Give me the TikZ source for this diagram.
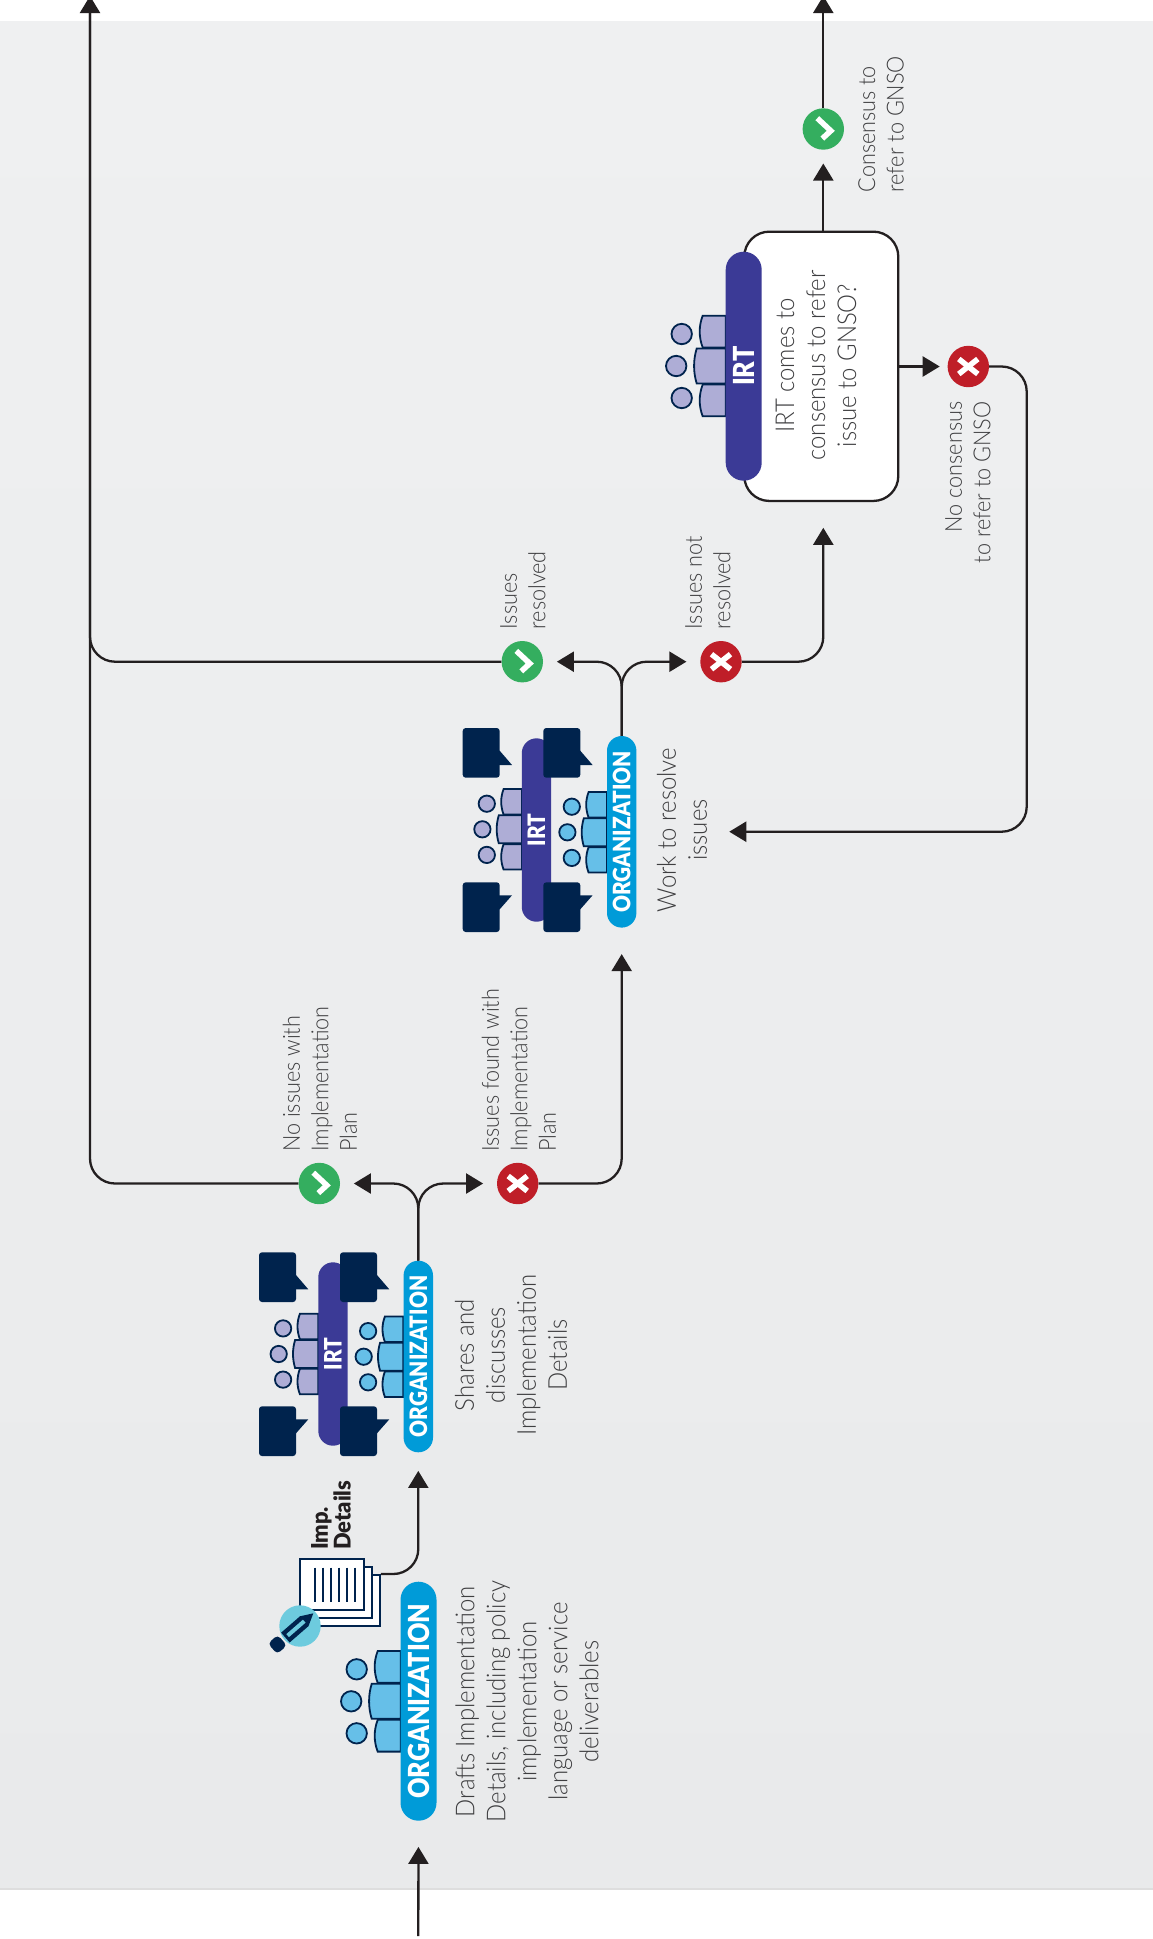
\documentclass[tikz,border=0pt]{standalone}
\usepackage{fontspec}
\setmainfont{Lato Light}[FakeStretch=0.92]
\newfontfamily\boldf{Lato Black}[FakeStretch=0.95]
\newfontfamily\semif{Lato Black}[FakeStretch=0.87]
\usetikzlibrary{arrows.meta,calc}
\definecolor{linec}{HTML}{231F20}
\definecolor{txtc}{HTML}{3E3E40}
\definecolor{navy}{HTML}{00234D}
\definecolor{orgc}{HTML}{009BD8}
\definecolor{irtc}{HTML}{3B3A96}
\definecolor{orgp}{HTML}{66BFE8}
\definecolor{irtp}{HTML}{AEADD6}
\definecolor{okc}{HTML}{34AE5F}
\definecolor{noc}{HTML}{BF1E28}
\definecolor{tealc}{HTML}{6DCBDE}
\definecolor{bgtop}{HTML}{EFF0F1}
\definecolor{bgbot}{HTML}{E9EAEB}
\tikzset{
  x=1pt,y=-1pt,
  conn/.style={draw=linec,line width=2.3pt,rounded corners=25pt},
  arr/.style={conn,-{Triangle[length=17pt,width=20pt]}},
  okdot/.style={circle,fill=okc,minimum size=41.4pt,inner sep=0pt},
  nodot/.style={circle,fill=noc,minimum size=41.4pt,inner sep=0pt},
  bigpill/.style={fill=#1,minimum width=36pt,rounded corners=18pt,inner sep=0pt,text=white},
  smallpill/.style={fill=#1,minimum width=29.4pt,rounded corners=14.7pt,inner sep=0pt,text=white},
  bodytxt/.style={rotate=90,align=center,inner sep=0pt,text=txtc,font=\fontsize{26}{31}\selectfont},
  lbl/.style={rotate=90,align=left,anchor=west,inner sep=0pt,text=txtc,font=\fontsize{23.5}{28.5}\selectfont},
  page/.style={draw=navy,line width=2pt,fill=white,minimum width=64.3pt,minimum height=51pt,inner sep=0pt},
  glyph/.style={draw=white,line width=5.5pt},
}
\newcommand{\chev}[1]{\draw[glyph] ([shift={(-6,-10.8)}]#1.center) -- ([shift={(7.5,1.8)}]#1.center) -- ([shift={(-1,9.6)}]#1.center);}
\newcommand{\crs}[1]{\draw[glyph] ([shift={(-9.5,-7.5)}]#1.center) -- ([shift={(9.5,7.5)}]#1.center); \draw[glyph] ([shift={(9.5,-7.5)}]#1.center) -- ([shift={(-9.5,7.5)}]#1.center);}
% people: #1,#2 middle of the bar's edge, #3 scale, #4 colour
\newcommand{\folks}[4]{%
\begin{scope}[shift={(#1,#2)},scale=#3,every path/.append style={draw=navy,line width=1.8pt,fill=#4}]
\path (0,-50.3) -- (-23,-50.3) .. controls (-27,-40) and (-27,-29) .. (-23,-18.5) -- (0,-18.5) -- cycle;
\path (0,18.5) -- (-23,18.5) .. controls (-27,29) and (-27,40) .. (-23,50.3) -- (0,50.3) -- cycle;
\path (0,-17.5) -- (-29,-17.5) .. controls (-32.5,-6) and (-32.5,6) .. (-29,17.5) -- (0,17.5) -- cycle;
\path (-44,-32) circle[radius=10.2];
\path (-49.5,0) circle[radius=10.2];
\path (-44,32) circle[radius=10.2];
\end{scope}}
\newcommand{\bubtop}[2]{\begin{scope}[shift={(#1,#2)}]
\fill[navy,rounded corners=3pt] (0,0) rectangle (37,49.7);
\fill[navy] (36,22.7) -- (37,22.7) -- (49.3,37) -- (36,37) -- cycle;
\end{scope}}
\newcommand{\bubbot}[2]{\begin{scope}[shift={(#1,#2)}]
\fill[navy,rounded corners=3pt] (0,0) rectangle (37,49.7);
\fill[navy] (36,13) -- (49.3,13) -- (37,27) -- (36,27) -- cycle;
\end{scope}}
\begin{document}
\begin{tikzpicture}
\clip (0,0) rectangle (1153,1939);
\fill[white] (0,0) rectangle (1153,1939);
\fill[top color=bgtop,bottom color=bgbot] (0,21) rectangle (1153,1889);
\draw[color=black!13,line width=1.2pt] (0,1889) -- (1153,1889);

% ---- nodes: status dots
\node[okdot] (yes1) at (319.3,1183.5) {};
\node[nodot] (no1) at (517.7,1183.5) {};
\node[okdot] (yes2) at (522.3,661.7) {};
\node[nodot] (no2) at (721,661.7) {};
\node[okdot] (yes3) at (823.3,129) {};
\node[nodot] (no3) at (968.3,366.5) {};

% ---- free ends and the decision box
\coordinate (start) at (418.3,1936);
\coordinate (topL) at (90,-4);
\coordinate (topR) at (823.3,-4);
\coordinate (bendR) at (1026.7,831.7);
\node[draw=linec,line width=2.3pt,fill=white,rounded corners=25pt,minimum width=154pt,minimum height=269.3pt,inner sep=0pt] (box) at (821.3,366.3) {};

% ---- group 1
\folks{400.7}{1701.3}{1}{orgp}
\node[bigpill=orgc,minimum height=239pt] (org1) at (418.5,1701.2) {\rotatebox{90}{\semif\fontsize{29}{29}\selectfont ORGANIZATION}};
\bubtop{259}{1252.3}\bubbot{259}{1406.3}
\folks{318.3}{1354}{0.8}{irtp}
\node[smallpill=irtc,minimum height=183.4pt] (irt1) at (333,1354) {\rotatebox{90}{\semif\fontsize{24}{24}\selectfont IRT}};
\bubtop{340}{1252.3}\bubbot{340}{1406.3}
\folks{403.3}{1356.7}{0.8}{orgp}
\node[smallpill=orgc,minimum height=191.6pt] (org2) at (418.3,1356.5) {\rotatebox{90}{\semif\fontsize{24}{24}\selectfont ORGANIZATION}};

% ---- group 2
\bubtop{462.7}{728}\bubbot{462.7}{882.3}
\folks{522}{829.3}{0.8}{irtp}
\node[smallpill=irtc,minimum height=183.4pt] (irt2) at (536.5,830) {\rotatebox{90}{\semif\fontsize{24}{24}\selectfont IRT}};
\bubtop{543.3}{728}\bubbot{543.3}{882.3}
\folks{607}{832.3}{0.8}{orgp}
\node[smallpill=orgc,minimum height=191.6pt] (org3) at (621.7,831.8) {\rotatebox{90}{\semif\fontsize{24}{24}\selectfont ORGANIZATION}};

% ---- group 3
\folks{725.7}{366}{1}{irtp}
\node[bigpill=irtc,minimum height=229pt] (irt3) at (743.7,366.2) {\rotatebox{90}{\semif\fontsize{29}{29}\selectfont IRT}};

% ---- document stack
\node[page] (p3) at (347.6,1600.5) {};
\node[page] (p2) at (339.6,1592.5) {};
\node[page] (p1) at (332.2,1584.5) {};
\foreach \lx in {315,323,331,339,347,355}
  \draw[navy,line width=2.5pt] (\lx,1567.5) -- (\lx,1602);
\fill[tealc] (300,1626) circle[radius=20.7];
\begin{scope}[shift={(313.3,1613.3)},rotate=221]
\fill[navy] (0,0) -- (12,-6.5) -- (37,-6.5) -- (37,6.5) -- (12,6.5) -- cycle;
\fill[tealc] (12,-2) rectangle (34,2);
\fill[navy,rounded corners=4pt] (41,-7) -- (54,-7) -- (54,7) -- (41,7) -- cycle;
\end{scope}

% ---- connectors
\draw[arr,shorten >=26pt] (start) -- (org1.south);
\draw[arr,shorten >=18.4pt] (p3.north east) -| (org2.south);
\draw[arr,shorten >=13.7pt] (org2.north) |- (yes1.east);
\draw[arr,shorten >=13.7pt] (org2.north) |- (no1.west);
\draw[arr] (yes1.west) -| (topL);
\draw[arr,shorten >=26.3pt] (no1.east) -| (org3.south);
\draw[arr,shorten >=13.7pt] (org3.north) |- (yes2.east);
\draw[arr,shorten >=13.7pt] (org3.north) |- (no2.west);
\draw[conn] (yes2.west) -| (topL);
\draw[arr,shorten >=25.7pt] (no2.east) -| (yes3 |- box.south);
\draw[arr,shorten >=13.6pt] (yes3 |- box.north) -- (yes3.south);
\draw[arr] (yes3.north) -- (topR);
\draw[arr,shorten >=7.7pt] (box.east |- no3) -- (no3.west);
\chev{yes1}\chev{yes2}\chev{yes3}
\crs{no1}\crs{no2}\crs{no3}

% ---- texts
\node[bodytxt] (t1) at (527,1701.5) {Drafts Implementation\\Details, including policy\\implementation\\language or service\\deliverables};
\node[bodytxt] (t2) at (511,1355) {Shares and\\discusses\\Implementation\\Details};
\node[bodytxt] (work) at (682,830) {Work to resolve\\issues};
\node[bodytxt] (t4) at (816,365.5) {IRT comes to\\consensus to refer\\issue to GNSO?};
\draw[arr,shorten >=22pt] (no3.east) -| (bendR) -- (bendR -| work.south);
\node[lbl] (l1) at (320,1152) {No issues with\\Implementation\\Plan};
\node[lbl] (l2) at (519,1152) {Issues found with\\Implementation\\Plan};
\node[lbl] (l3) at (523,629.5) {Issues\\resolved};
\node[lbl] (l4) at (708,629.5) {Issues not\\resolved};
\node[lbl] (l5) at (881,192.5) {Consensus to\\refer to GNSO};
\node[lbl,align=right,anchor=east] (l6) at (968,401.5) {No consensus\\to refer to GNSO};
\node[rotate=90,align=left,anchor=west,inner sep=0pt,text=linec,font=\boldf\fontsize{23}{22.7}\selectfont] (l7) at (331,1550) {Imp.\\Details};
\end{tikzpicture}
\end{document}
